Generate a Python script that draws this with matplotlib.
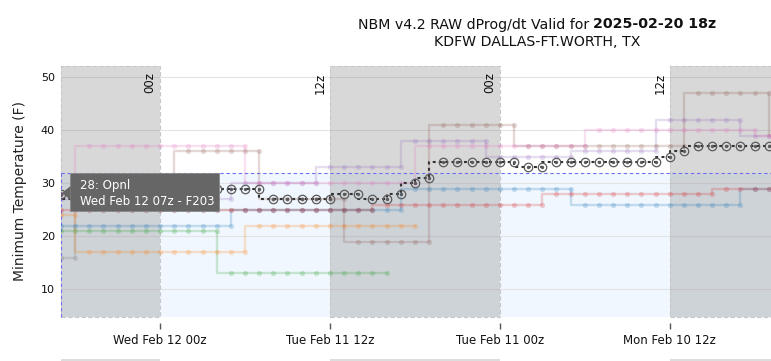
import numpy as np
import matplotlib
matplotlib.use("Agg")
import matplotlib.pyplot as plt
from matplotlib.patches import Rectangle, Polygon

# ---------------- data ----------------
# x = forecast hour of each NBM run valid 2025-02-20 18z (newest run F203 on the left)
forecast_hour = list(range(203, 255))

nan = np.nan
opnl = [28, 27, 27, 27, 27, 27, 29, 29, 29, 29, 29, 29, 29, 29, 29, 27, 27, 27, 27, 27,
        28, 28, 27, 27, 28, 30, 31, 34, 34, 34, 34, 34, 34, 33, 33, 34, 34, 34, 34, 34,
        34, 34, 34, 35, 36, 37, 37, 37, 37, 37, 37, 37]
pink = [28, 28] + [37] * 12 + [30] * 12 + [37] * 12 + [40] * 12 + [39, 39]
brown = [28] * 9 + [36] * 6 + [27] * 6 + [19] * 6 + [41] * 6 + [37] * 12 + [47] * 6 + [39]
purple = [27] * 13 + [30] * 6 + [33] * 6 + [38] * 6 + [35] * 6 + [36] * 6 + [42] * 6 + [39] * 3
red = [25] * 23 + [26] * 12 + [28] * 12 + [29] * 5
blue = [22] * 13 + [25] * 12 + [29] * 12 + [26] * 12 + [29] * 3
orange = [24, 24] + [17] * 12 + [22] * 12 + [nan] * 26
green = [21] * 12 + [13] * 12 + [nan] * 28
grey = [16, 16] + [25] * 21 + [nan] * 29

series = [
    ("grey", grey, "#7f7f7f"),
    ("green", green, "#2ca02c"),
    ("orange", orange, "#ff7f0e"),
    ("blue", blue, "#1f77b4"),
    ("red", red, "#d62728"),
    ("purple", purple, "#9467bd"),
    ("brown", brown, "#8c564b"),
    ("pink", pink, "#e377c2"),
]

tick_hours = [210, 222, 234, 246]
tick_labels = ["Wed Feb 12 00z", "Tue Feb 11 12z", "Tue Feb 11 00z", "Mon Feb 10 12z"]
cycle_labels = ["00z", "12z", "00z", "12z"]
shade_spans = [(203, 210), (222, 234), (246, 258)]
freezing = 32
title_1 = "NBM v4.2 RAW dProg/dt Valid for "
title_bold = "2025-02-20 18z"
title_2 = "KDFW DALLAS-FT.WORTH, TX"
ylabel = "Minimum Temperature (F)"
tip_lines = ["28: Opnl", "Wed Feb 12 07z - F203"]

# ---------------- figure ----------------
W, H = 771, 361
fig = plt.figure(figsize=(W / 100, H / 100), dpi=100)
L, R, T, B = 61, 771, 66, 316.5
ax = fig.add_axes([L / W, 1 - B / H, (R - L) / W, (B - T) / H])

PXH = 14.156
x0, x1 = 203, 203 + (R - L) / PXH
y0, y1 = 4.87, 52.13
ax.set_xlim(x0, x1)
ax.set_ylim(y0, y1)

# freezing region
ax.axhspan(y0, freezing, facecolor="#f0f7ff", lw=0, zorder=0.2)
ax.plot([x0, x1], [freezing, freezing], color="#7070ee", lw=0.8,
        ls=(0, (3, 2.5)), zorder=1.3, clip_on=False)
ax.plot([x0, x0], [y0, freezing], color="#7070ee", lw=0.8,
        ls=(0, (3, 2.5)), zorder=1.3, clip_on=False)

ax.grid(axis="y", color="#e4e4e4", lw=0.8, zorder=0.5)
ax.set_axisbelow(True)

# shaded 00z-12z spans
for (a, b) in shade_spans:
    ax.add_patch(Rectangle((a, y0), b - a, y1 - y0, facecolor="#808080",
                           alpha=0.3, lw=0, zorder=1))
    ax.add_patch(Rectangle((a, y0), b - a, y1 - y0, fill=False,
                           edgecolor="#c8c8c8", ls=(0, (4, 2)), lw=0.8,
                           zorder=1.1, clip_on=False))

for h, lab in zip(tick_hours, cycle_labels):
    ax.annotate(lab, xy=(h, 1), xycoords=("data", "axes fraction"),
                xytext=(-3.5, -6.5), textcoords="offset pixels",
                rotation=90, ha="right", va="top", fontsize=8.5,
                color="#111111", zorder=4)

# ensemble / model lines
for name, vals, col in series:
    ax.plot(forecast_hour, vals, drawstyle="steps-pre", color=col, lw=1.7,
            alpha=0.22, marker="o", ms=3.8, mew=0, zorder=2)

# operational line
ax.plot(forecast_hour, opnl, drawstyle="steps-pre", color="#333333", lw=1.5,
        ls=(0, (1.4, 1.6)), zorder=3)
ax.plot(forecast_hour, opnl, ls="none", marker="o", ms=6.1, mfc="none",
        mec="#5a5a5a", mew=0.9, zorder=3.1)
ax.plot(forecast_hour, opnl, ls="none", marker="o", ms=1.4, color="#5a5a5a",
        zorder=3.2)

# axes styling
for s in ax.spines.values():
    s.set_visible(False)
ax.spines["bottom"].set_position(("outward", 5))
ax.set_xticks(tick_hours, tick_labels)
ax.set_yticks([10, 20, 30, 40, 50])
ax.tick_params(axis="x", length=4.3, width=1, color="#555555", pad=3.5,
               labelsize=8.5, labelcolor="#111111")
ax.tick_params(axis="y", length=0, pad=4.3, labelsize=8, labelcolor="#111111")

fig.text(20 / W, 1 - 191 / H, ylabel, rotation=90, ha="center", va="center",
         fontsize=10, color="#222222")

# title (two lines, part bold)
TFS = 10.2
t1 = fig.text(0, 1 - 24.5 / H, title_1, fontsize=TFS, ha="left", va="center", color="#111111")
t1b = fig.text(0, 1 - 24.5 / H, title_bold, fontsize=TFS, ha="left", va="center",
               fontweight="bold", color="#111111")
fig.text(537 / W, 1 - 42.5 / H, title_2, fontsize=TFS, ha="center", va="center",
         color="#111111")
fig.canvas.draw()
r = fig.canvas.get_renderer()
w1 = t1.get_window_extent(r).width
w2 = t1b.get_window_extent(r).width
start = 537 - (w1 + w2) / 2
t1.set_x(start / W)
t1b.set_x((start + w1) / W)

# bottom strip of the next panel
for (a, b) in shade_spans:
    xa = L + (a - x0) * PXH
    xb = min(L + (b - x0) * PXH, W)
    fig.patches.append(Rectangle((xa / W, 0), (xb - xa) / W, 1.8 / H,
                                 transform=fig.transFigure, facecolor="#dddddd",
                                 edgecolor="none", figure=fig))

# hover tooltip
def fp(x, y):
    return (x / W, 1 - y / H)

bx0, by0, bx1, by1 = 70, 173.5, 218.5, 211.5
fig.patches.append(Rectangle(fp(bx0, by1), (bx1 - bx0) / W, (by1 - by0) / H,
                             transform=fig.transFigure, facecolor="#666666",
                             edgecolor="#8a8a8a", lw=0.6, figure=fig, zorder=10))
fig.patches.append(Polygon([fp(62, 193), fp(70.5, 186), fp(70.5, 200)],
                           closed=True, transform=fig.transFigure,
                           facecolor="#666666", edgecolor="none", figure=fig, zorder=10))
fig.text(80 / W, 1 - 185.5 / H, tip_lines[0], fontsize=8.5, color="white",
         ha="left", va="center", zorder=11)
fig.text(80 / W, 1 - 201.5 / H, tip_lines[1], fontsize=8.5, color="white",
         ha="left", va="center", zorder=11)

fig.savefig("out.png", dpi=100)
